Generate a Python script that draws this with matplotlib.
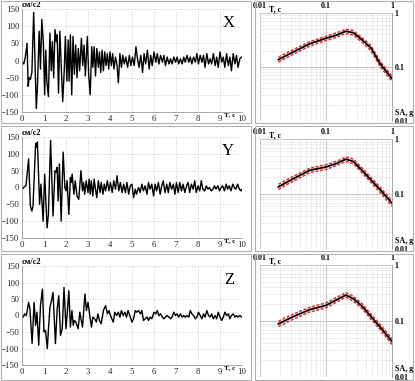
import matplotlib
matplotlib.use("Agg")
import matplotlib.pyplot as plt
from matplotlib.patches import Rectangle
from matplotlib.ticker import FixedLocator, NullFormatter, LogLocator

plt.rcParams['font.family'] = ['Liberation Serif', 'DejaVu Serif']

# accelerograms: (time, cm/s2) peaks
acc_x = [(0, -5), (0.08, -10), (0.15, 10), (0.23, 50), (0.28, -75), (0.33, -50), (0.38, -55), (0.45, -35),
         (0.53, 140), (0.65, -140), (0.7, -80), (0.78, 85), (0.84, -25), (0.9, 120), (0.97, 50), (1.03, -100),
         (1.08, 30), (1.13, -60), (1.2, -105), (1.27, 80), (1.33, -30), (1.38, 55), (1.44, -50), (1.5, 90),
         (1.56, 55), (1.6, 75), (1.66, -95), (1.72, 85), (1.78, -10), (1.85, -120), (1.92, -30), (1.97, 70),
         (2.04, -60), (2.1, 60), (2.14, -60), (2.2, 75), (2.26, -100), (2.32, 70), (2.38, -40), (2.44, 45),
         (2.5, -50), (2.56, 35), (2.62, -30), (2.7, 65), (2.76, -15), (2.82, 45), (2.88, -45), (2.97, 70),
         (3.03, -40), (3.1, -100), (3.17, 40), (3.22, -20), (3.28, 40), (3.34, -45), (3.4, 35), (3.47, -20),
         (3.52, 25), (3.58, -35), (3.64, 30), (3.7, -30), (3.76, 25), (3.82, -15), (3.88, 20), (3.94, -25),
         (4.0, 25), (4.06, -15), (4.12, 20), (4.18, -25), (4.25, 10), (4.32, -15), (4.38, -65), (4.45, 20),
         (4.52, -20), (4.58, 15), (4.65, -10), (4.72, 10), (4.8, -20), (4.88, 15), (4.95, -15), (5.02, 10),
         (5.1, -15), (5.18, 40), (5.25, 5), (5.32, -20), (5.4, 15), (5.48, -35), (5.55, 20), (5.62, -10),
         (5.7, 30), (5.78, -25), (5.85, 15), (5.92, -15), (6.0, 25), (6.08, -5), (6.15, 20), (6.22, -10),
         (6.3, 15), (6.38, -5), (6.45, 15), (6.52, -15), (6.6, 10), (6.68, -10), (6.75, 5), (6.82, -10),
         (6.9, 10), (6.98, -5), (7.05, 10), (7.12, -10), (7.2, 5), (7.28, -10), (7.35, 10), (7.42, -5),
         (7.5, 15), (7.58, -5), (7.65, 10), (7.72, -10), (7.8, 10), (7.88, -5), (7.95, 20), (8.02, -10),
         (8.1, 15), (8.18, -5), (8.25, 15), (8.32, -20), (8.4, 20), (8.48, -10), (8.55, 5), (8.62, -10),
         (8.7, 20), (8.78, -15), (8.85, 10), (8.92, -20), (9.0, 25), (9.08, -5), (9.15, 10), (9.22, -20),
         (9.3, 20), (9.38, -15), (9.45, 10), (9.52, -30), (9.6, 20), (9.68, -10), (9.75, 15), (9.82, -20),
         (9.9, 5), (9.97, 10)]

acc_y = [(0, 0), (0.05, -3), (0.1, 2), (0.18, 5), (0.3, 85), (0.38, -55), (0.45, -70), (0.5, -55),
         (0.62, 130), (0.66, 120), (0.7, 135), (0.8, -50), (0.86, 10), (0.96, -100), (1.03, 40), (1.14, -120),
         (1.2, -80), (1.3, 140), (1.41, -85), (1.5, 50), (1.55, 45), (1.6, 60), (1.64, -40), (1.7, 70),
         (1.78, -100), (1.87, 105), (1.95, 0), (2.0, -10), (2.05, 20), (2.13, -80), (2.2, 30), (2.24, 15),
         (2.28, 40), (2.36, -20), (2.42, 20), (2.5, -25), (2.58, -35), (2.68, 50), (2.75, -10), (2.8, 15),
         (2.85, -20), (2.92, 20), (3.0, -15), (3.05, 25), (3.1, -20), (3.15, 20), (3.22, -25), (3.28, 25),
         (3.35, -10), (3.4, -30), (3.47, 20), (3.55, -15), (3.6, 15), (3.68, -20), (3.74, 10), (3.8, -10),
         (3.88, 20), (3.95, -10), (4.02, 15), (4.1, -15), (4.17, 20), (4.25, -5), (4.32, 35), (4.4, -10),
         (4.47, 15), (4.55, -15), (4.62, 10), (4.7, -15), (4.77, 15), (4.85, -20), (4.92, 5), (5.0, 10),
         (5.07, -30), (5.15, -5), (5.2, -20), (5.3, 0), (5.37, -15), (5.45, 10), (5.52, -10), (5.6, 5),
         (5.68, -20), (5.75, 15), (5.82, -5), (5.9, 10), (5.98, -25), (6.05, 10), (6.12, -10), (6.2, 15),
         (6.28, -20), (6.35, 5), (6.42, 20), (6.5, -15), (6.58, 10), (6.65, -15), (6.72, 15), (6.8, -5),
         (6.88, 10), (6.95, -20), (7.02, 15), (7.1, -15), (7.17, 15), (7.25, -10), (7.32, 10), (7.4, -15),
         (7.48, 5), (7.55, 15), (7.62, -15), (7.7, 10), (7.78, -5), (7.85, 20), (7.92, -15), (8.0, 5),
         (8.08, -10), (8.15, 20), (8.22, -5), (8.3, -10), (8.38, 5), (8.45, -5), (8.52, 0), (8.6, -10),
         (8.68, -5), (8.75, 5), (8.82, -5), (8.9, 5), (8.98, -10), (9.05, 0), (9.12, 5), (9.2, -10),
         (9.28, 10), (9.35, -5), (9.42, 5), (9.5, -10), (9.58, 10), (9.65, 0), (9.72, -5), (9.8, 10),
         (9.88, -5), (9.95, -10), (10.0, -5)]

acc_z = [(0, 0), (0.06, -5), (0.12, 5), (0.2, 0), (0.3, 40), (0.36, 20), (0.46, -85), (0.55, 40),
         (0.62, -30), (0.68, 10), (0.76, -90), (0.84, 30), (0.93, 80), (1.0, -50), (1.07, -45), (1.15, -100),
         (1.2, -45), (1.27, 25), (1.34, 45), (1.41, 70), (1.52, -85), (1.6, 20), (1.67, 60), (1.75, -60),
         (1.83, -40), (1.91, 85), (2.0, -40), (2.06, 10), (2.13, 75), (2.2, -35), (2.27, 15), (2.33, -30),
         (2.38, -15), (2.45, -20), (2.55, -40), (2.63, 10), (2.75, -35), (2.86, 65), (2.93, 15), (3.0, 40),
         (3.08, 0), (3.16, -35), (3.22, -5), (3.3, -10), (3.38, -20), (3.45, 5), (3.52, -15), (3.6, -25),
         (3.7, 15), (3.8, 30), (3.88, 5), (3.95, 15), (4.05, -5), (4.15, -20), (4.22, 10), (4.3, 0),
         (4.38, 10), (4.45, -5), (4.52, 15), (4.6, 0), (4.68, 10), (4.75, -5), (4.82, 15), (4.9, 0),
         (5.0, -20), (5.07, -10), (5.15, 15), (5.22, 10), (5.3, 15), (5.38, 5), (5.45, 15), (5.52, -15),
         (5.6, -10), (5.68, -5), (5.75, -15), (5.82, -5), (5.9, -10), (6.0, 10), (6.08, 5), (6.15, 15),
         (6.22, 0), (6.3, 5), (6.38, -5), (6.45, -10), (6.52, -5), (6.6, 0), (6.68, -5), (6.75, -10),
         (6.82, -5), (6.9, 10), (6.98, 0), (7.05, 5), (7.12, -5), (7.2, 5), (7.28, -5), (7.35, 0),
         (7.42, -5), (7.5, 0), (7.58, -5), (7.65, 15), (7.72, 5), (7.8, 0), (7.88, -10), (7.95, -5),
         (8.02, 10), (8.1, 0), (8.18, -10), (8.25, 5), (8.32, -5), (8.4, 15), (8.48, 0), (8.55, -5),
         (8.62, 5), (8.7, -10), (8.78, 0), (8.85, -10), (8.92, 10), (9.0, -5), (9.08, -15), (9.15, -5),
         (9.22, 10), (9.3, 0), (9.38, 5), (9.45, -10), (9.52, 0), (9.6, 5), (9.68, -5), (9.75, 0),
         (9.82, -5), (9.9, 0), (10.0, -5)]

# response spectra: period T (s) vs SA (g)
per = [0.019, 0.032, 0.057, 0.1, 0.145, 0.2, 0.26, 0.35, 0.48, 0.66, 1.0]
sa_x = [0.137, 0.19, 0.27, 0.34, 0.39, 0.46, 0.43, 0.32, 0.225, 0.115, 0.061]
sa_x_hi = [0.152, 0.21, 0.295, 0.37, 0.43, 0.50, 0.47, 0.35, 0.25, 0.128, 0.067]
sa_x_lo = [0.124, 0.172, 0.245, 0.31, 0.355, 0.42, 0.39, 0.29, 0.2, 0.102, 0.054]
sa_y = [0.135, 0.19, 0.27, 0.31, 0.36, 0.43, 0.39, 0.27, 0.18, 0.12, 0.068]
sa_y_hi = [0.15, 0.21, 0.295, 0.34, 0.395, 0.47, 0.43, 0.3, 0.2, 0.133, 0.075]
sa_y_lo = [0.122, 0.172, 0.245, 0.28, 0.33, 0.39, 0.355, 0.245, 0.162, 0.107, 0.06]
sa_z = [0.089, 0.12, 0.16, 0.19, 0.24, 0.29, 0.25, 0.185, 0.12, 0.078, 0.043]
sa_z_hi = [0.099, 0.133, 0.176, 0.21, 0.265, 0.32, 0.275, 0.205, 0.133, 0.087, 0.048]
sa_z_lo = [0.08, 0.108, 0.145, 0.172, 0.218, 0.265, 0.225, 0.167, 0.108, 0.07, 0.038]

labels = ["X", "Y", "Z"]
accs = [acc_x, acc_y, acc_z]
spectra = [(sa_x, sa_x_hi, sa_x_lo), (sa_y, sa_y_hi, sa_y_lo), (sa_z, sa_z_hi, sa_z_lo)]

W, H = 415, 381
fig = plt.figure(figsize=(W / 100, H / 100), dpi=100)


def box(x0, y0, x1, y1):
    return [x0 / W, 1 - y1 / H, (x1 - x0) / W, (y1 - y0) / H]


# panel frames
for r, (y0, y1) in enumerate([(1, 123), (126, 251), (254, 380)]):
    for (x0, x1) in [(1, 251), (255, 413)]:
        fig.patches.append(Rectangle((x0 / W, 1 - y1 / H), (x1 - x0) / W, (y1 - y0) / H,
                                     transform=fig.transFigure, fill=False, ec="#b0b0b0", lw=0.8))

left_rows = [(9, 112), (137, 238), (266, 365)]
right_rows = [(13, 121), (139, 249), (265, 377)]
gridc = "#c8c8c8"

for i in range(3):
    # accelerogram
    ax = fig.add_axes(box(22, left_rows[i][0], 242, left_rows[i][1]))
    t = [p[0] for p in accs[i]]
    a = [p[1] for p in accs[i]]
    ax.plot(t, a, color="black", lw=1.0)
    ax.set_xlim(0, 10)
    ax.set_ylim(-150, 150)
    ax.set_xticks(range(11))
    ax.set_yticks(range(-150, 151, 50))
    ax.grid(True, color=gridc, ls=(0, (2, 2)), lw=0.5)
    for s in ["top", "right"]:
        ax.spines[s].set_visible(False)
    for s in ["left", "bottom"]:
        ax.spines[s].set_color("#999999")
        ax.spines[s].set_linewidth(0.6)
    ax.tick_params(labelsize=6.3, length=0, pad=2, colors="#222222")
    ax.text(0.0, 1.0, "см/с2", transform=ax.transAxes, fontsize=6, fontweight="bold",
            ha="left", va="bottom")
    ax.text(0.942, -0.005, "T, c", transform=ax.transAxes, fontsize=5.2, fontweight="bold",
            ha="center", va="top")
    ax.text(0.965, 0.94, labels[i], transform=ax.transAxes, fontsize=12, ha="right", va="top")

    # response spectrum
    sx = fig.add_axes(box(260, right_rows[i][0], 392, right_rows[i][1]))
    sa, hi, lo = spectra[i]
    sx.plot(per, hi, color="#e03030", lw=1.1, ls=(0, (2, 1)))
    sx.plot(per, lo, color="#e03030", lw=1.1, ls=(0, (2, 1)))
    sx.plot(per, sa, color="black", lw=1.3)
    sx.set_xscale("log")
    sx.set_yscale("log")
    sx.set_xlim(0.01, 1)
    sx.set_ylim(0.01, 1)
    sx.xaxis.set_major_locator(FixedLocator([0.01, 0.1, 1]))
    sx.yaxis.set_major_locator(FixedLocator([0.01, 0.1, 1]))
    sx.xaxis.set_minor_locator(LogLocator(base=10, subs=range(2, 10)))
    sx.yaxis.set_minor_locator(LogLocator(base=10, subs=range(2, 10)))
    sx.xaxis.set_minor_formatter(NullFormatter())
    sx.yaxis.set_minor_formatter(NullFormatter())
    sx.set_xticklabels(["0.01", "0.1", "1"])
    sx.set_yticklabels(["0.01", "0.1", "1"])
    sx.xaxis.tick_top()
    sx.yaxis.tick_right()
    sx.grid(True, which="minor", color="#d0d0d0", ls=(0, (1, 1)), lw=0.5)
    sx.grid(True, which="major", color="#bbbbbb", ls="-", lw=0.6)
    for s in sx.spines.values():
        s.set_visible(False)
    sx.spines["right"].set_visible(True)
    sx.spines["right"].set_color("#999999")
    sx.spines["right"].set_linewidth(0.6)
    sx.tick_params(which="both", length=0, labelsize=5.8, pad=2)
    for lab in sx.get_xticklabels() + sx.get_yticklabels():
        lab.set_fontweight("bold")
    sx.text(0.07, 1.0, "T, c", transform=sx.transAxes, fontsize=5.8, fontweight="bold",
            ha="left", va="bottom")
    sx.text(1.02, 0.035, "SA, g", transform=sx.transAxes, fontsize=5.8, fontweight="bold",
            ha="left", va="bottom")

fig.savefig("out.png", dpi=100)
